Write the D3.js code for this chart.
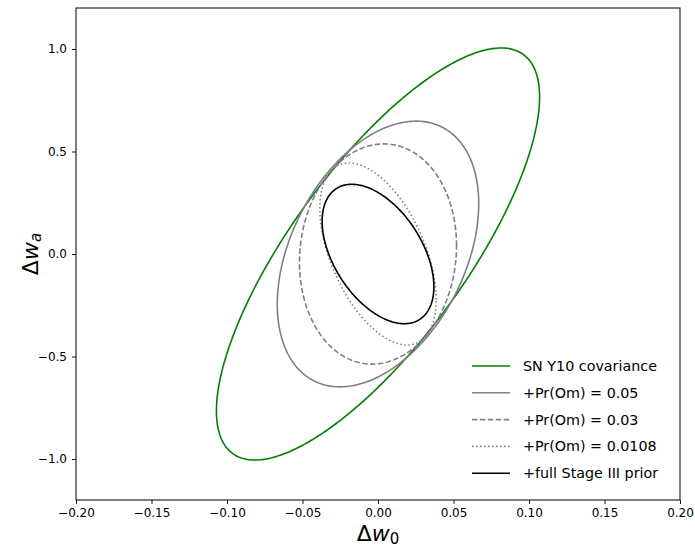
<!DOCTYPE html>
<html><head><meta charset="utf-8">
<script src="https://cdn.jsdelivr.net/npm/d3@7"></script>
<style>body{margin:0;background:#fff}svg{display:block}</style>
</head><body>
<svg id="c" width="695" height="547"></svg>
<script>
// Series: half-widths (sigma_w0, sigma_wa) of each contour and correlation coefficient
const series = ["SN Y10 covariance", "+Pr(Om) = 0.05", "+Pr(Om) = 0.03", "+Pr(Om) = 0.0108", "+full Stage III prior"];
const sigmaW0 = [0.107, 0.0667, 0.052, 0.0385, 0.0370];
const sigmaWa = [1.005, 0.648, 0.537, 0.444, 0.340];
const rhoVals = [0.762, 0.378, 0.075, -0.50, -0.47];
const colors = ["#008000", "#808080", "#808080", "#808080", "#000000"];
const dashes = [null, null, "5.5,2.4", "1.5,2.5", null];
const xTicks = [-0.20, -0.15, -0.10, -0.05, 0.00, 0.05, 0.10, 0.15, 0.20];
const yTicks = [-1.0, -0.5, 0.0, 0.5, 1.0];

const svg = d3.select("#c");
const L = 76, R = 680, T = 8, B = 500;
const x = d3.scaleLinear().domain([-0.2, 0.2]).range([L, R]);
const y = d3.scaleLinear().domain([-1.2, 1.2]).range([B, T]);
const font = "'DejaVu Sans', sans-serif";
const fmtMinus = s => s.replace("-", "\u2212");

const gx = svg.append("g").attr("transform", `translate(0,${B})`)
  .call(d3.axisBottom(x).tickValues(xTicks).tickFormat(d => fmtMinus(d3.format(".2f")(d))).tickSizeOuter(0).tickSize(4).tickPadding(4));
const gy = svg.append("g").attr("transform", `translate(${L},0)`)
  .call(d3.axisLeft(y).tickValues(yTicks).tickFormat(d => fmtMinus(d3.format(".1f")(d))).tickSizeOuter(0).tickSize(4).tickPadding(5));
[gx, gy].forEach(g => {
  g.select(".domain").remove();
  g.selectAll("text").attr("font-family", font).attr("font-size", 12).attr("fill", "#000");
  g.selectAll("line").attr("stroke", "#000").attr("stroke-width", 0.9);
});

// frame
svg.append("rect").attr("x", L).attr("y", T).attr("width", R - L).attr("height", B - T)
  .attr("fill", "none").attr("stroke", "#000").attr("stroke-width", 1);

// ellipses
const line = d3.line().x(d => x(d[0])).y(d => y(d[1])).curve(d3.curveLinearClosed);
const ts = d3.range(0, 360, 1).map(a => a * Math.PI / 180);
series.forEach((s, i) => {
  const sx = sigmaW0[i], sy = sigmaWa[i], r = rhoVals[i];
  const pts = ts.map(t => [sx * Math.cos(t), sy * (r * Math.cos(t) + Math.sqrt(1 - r * r) * Math.sin(t))]);
  svg.append("path").attr("d", line(pts)).attr("fill", "none")
    .attr("stroke", colors[i]).attr("stroke-width", 1.6)
    .attr("stroke-dasharray", dashes[i]);
});

// legend
const lg = svg.append("g");
series.forEach((s, i) => {
  const yy = 366 + i * 26.8;
  lg.append("line").attr("x1", 472).attr("x2", 510).attr("y1", yy).attr("y2", yy)
    .attr("stroke", colors[i]).attr("stroke-width", 1.6).attr("stroke-dasharray", dashes[i]);
  lg.append("text").attr("x", 523).attr("y", yy).attr("dy", "0.35em")
    .attr("font-family", font).attr("font-size", 14.3).attr("fill", "#000").text(s);
});

// axis labels
svg.append("text").attr("x", x(0)).attr("y", 541).attr("text-anchor", "middle")
  .attr("font-family", font).attr("font-size", 22)
  .html('\u0394<tspan font-style="italic">w</tspan><tspan font-size="15" dy="3">0</tspan>');
svg.append("text").attr("transform", `translate(38,${y(0)}) rotate(-90)`).attr("text-anchor", "middle")
  .attr("font-family", font).attr("font-size", 22)
  .html('\u0394<tspan font-style="italic">w</tspan><tspan font-size="15" font-style="italic" dy="3">a</tspan>');
</script>
</body></html>
